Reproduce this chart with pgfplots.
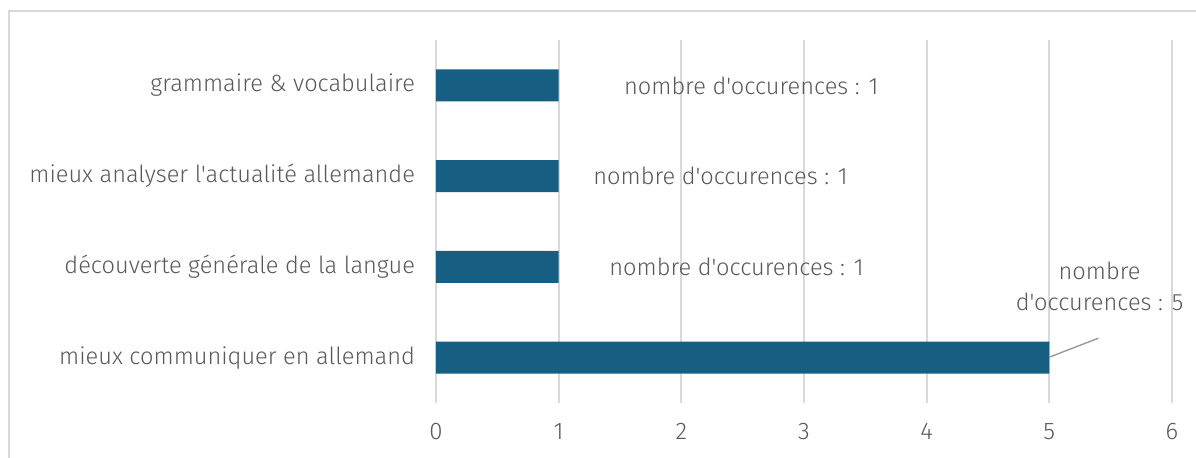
\documentclass[border=0pt]{standalone}
\usepackage{pgfplots}
\pgfplotsset{compat=1.18}
\usepackage{fontspec}
\setmainfont{Fira Sans Light}[Ligatures=TeXOff]
\definecolor{barc}{HTML}{175F82}
\definecolor{txt}{HTML}{595959}
\definecolor{gridc}{HTML}{D9D9D9}
\begin{document}
\begin{tikzpicture}[x=1pt,y=1pt]
\useasboundingbox (-218,-27) rectangle (380,201.5);
\draw[gridc,line width=1pt] (-213.5,-40) -- (-213.5,196) -- (400,196);
\begin{axis}[
  at={(0,0)}, anchor=south west,
  scale only axis, width=368pt, height=181.5pt,
  xbar, bar width=16pt,
  xmin=0, xmax=6, ymin=-0.5, ymax=3.5,
  xtick={0,...,6},
  ytick={0,1,2,3},
  yticklabels={mieux communiquer en allemand, découverte générale de la langue, mieux analyser l'actualité allemande, grammaire \& vocabulaire},
  axis line style={draw=none},
  major tick length=0pt,
  xmajorgrids=true, ymajorgrids=false,
  major grid style={draw=gridc, line width=0.9pt},
  tick label style={font=\fontsize{12}{13}\selectfont, text=txt},
  yticklabel style={font=\fontsize{11.8}{13}\selectfont, xshift=-7pt},
  xticklabel style={yshift=-6.5pt},
  /pgf/number format/assume math mode=true,
  clip=false,
]
\addplot[fill=barc, draw=none] coordinates {(5,0) (1,1) (1,2) (1,3)};
\draw[black!40, line width=0.7pt] (axis cs:5,0.005) -- (axis cs:5.40,0.214);
\tikzset{lab/.style={font=\fontsize{11.8}{15.5}\selectfont, text=txt}}
\node[lab] at (axis cs:2.57,3) {nombre d'occurences : 1};
\node[lab] at (axis cs:2.32,2) {nombre d'occurences : 1};
\node[lab] at (axis cs:2.45,1) {nombre d'occurences : 1};
\node[lab, align=center] at (axis cs:5.41,0.78) {nombre\\d'occurences : 5};
\end{axis}
\end{tikzpicture}
\end{document}
